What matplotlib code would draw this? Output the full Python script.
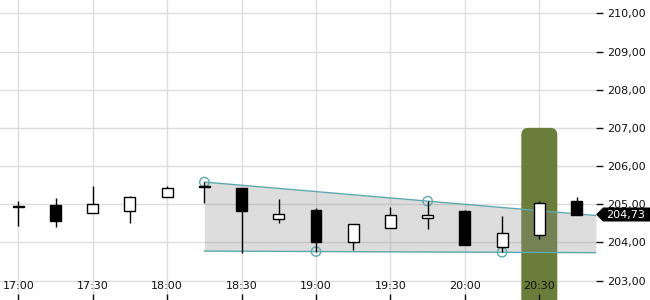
import matplotlib
matplotlib.use("Agg")
import matplotlib.pyplot as plt
from matplotlib.patches import Polygon, FancyBboxPatch
from matplotlib.transforms import IdentityTransform

plt.rcParams['font.family'] = ['DejaVu Sans']

# ---- data ----
times = ["17:00", "17:15", "17:30", "17:45", "18:00", "18:15", "18:30", "18:45",
         "19:00", "19:15", "19:30", "19:45", "20:00", "20:15", "20:30", "20:45"]
opens = [204.96, 204.98, 204.76, 204.81, 205.20, 205.48, 205.42, 204.61,
         204.84, 204.00, 204.37, 204.63, 204.82, 203.87, 204.18, 205.09]
highs = [205.09, 205.16, 205.48, 205.22, 205.48, 205.58, 205.43, 205.13,
         204.90, 204.48, 204.93, 205.08, 204.85, 204.69, 205.09, 205.18]
lows = [204.44, 204.40, 204.76, 204.52, 205.20, 205.04, 203.72, 204.50,
        203.76, 203.79, 204.37, 204.35, 203.92, 203.74, 204.08, 204.73]
closes = [204.93, 204.55, 205.01, 205.18, 205.42, 205.45, 204.83, 204.74,
          204.00, 204.48, 204.71, 204.71, 203.92, 204.24, 205.03, 204.73]

upper_anchor_times = ["18:15", "19:45"]
upper_anchor_vals = [205.58, 205.08]
lower_anchor_times = ["19:00", "20:15"]
lower_anchor_vals = [203.76, 203.74]

highlight_time = "20:30"
highlight_top = 207.0
last_price = 204.73

x_tick_labels = ["17:00", "17:30", "18:00", "18:30", "19:00", "19:30", "20:00", "20:30"]
y_ticks = [203, 204, 205, 206, 207, 208, 209, 210]


def to_min(t):
    h, m = t.split(":")
    return (int(h) - 17) * 60 + int(m)


xs = [to_min(t) for t in times]

W, H = 650, 300
fig = plt.figure(figsize=(W / 100, H / 100), dpi=100)
ax = fig.add_axes([0, 0, 596 / W, 1])
XMIN, XMAX = -7.38, 232.85
ax.set_xlim(XMIN, XMAX)
ax.set_ylim(202.49, 210.35)
for s in ax.spines.values():
    s.set_visible(False)

# ticks (axis drawn on top), grid drawn manually underneath
xt = [to_min(t) for t in x_tick_labels]
ax.set_xticks(xt)
ax.set_xticklabels(x_tick_labels)
ax.set_yticks(y_ticks)
ax.set_yticklabels([f"{v:.2f}".replace(".", ",") for v in y_ticks])
ax.set_axisbelow(False)
ax.grid(False)
for v in xt:
    ax.axvline(v, color="#dddddd", lw=1, zorder=0)
for v in y_ticks:
    ax.axhline(v, color="#dddddd", lw=1, zorder=0)
ax.yaxis.tick_right()
ax.tick_params(axis="y", direction="out", length=5, width=1, pad=3,
               labelsize=8, colors="#111111")
ax.tick_params(axis="x", direction="in", length=4, width=1, pad=-14,
               labelsize=8, colors="#111111")

fig.canvas.draw()

# highlight column (pixel geometry)
hx = to_min(highlight_time)
px_c, py_top = ax.transData.transform((hx, highlight_top))
hw = 36
rect = FancyBboxPatch((px_c - hw / 2, -20), hw, py_top + 20,
                      boxstyle="round,pad=0,rounding_size=7",
                      transform=IdentityTransform(), facecolor="#6a7d3a",
                      edgecolor="none", zorder=1)
ax.add_patch(rect)

# trend channel
def line_through(ts, vs):
    x0, x1 = to_min(ts[0]), to_min(ts[1])
    slope = (vs[1] - vs[0]) / (x1 - x0)
    return lambda x: vs[0] + slope * (x - x0)

up = line_through(upper_anchor_times, upper_anchor_vals)
lo = line_through(lower_anchor_times, lower_anchor_vals)
start = to_min(upper_anchor_times[0])
lx = [start, XMAX]
ax.fill_between(lx, [lo(v) for v in lx], [up(v) for v in lx],
                color="#8f8f8f", alpha=0.3, linewidth=0, zorder=1.5)
ax.plot(lx, [up(v) for v in lx], color="#5ea9ae", lw=1, zorder=1.6)
ax.plot(lx, [lo(v) for v in lx], color="#5ea9ae", lw=1, zorder=1.6)
ax.scatter([to_min(t) for t in upper_anchor_times + lower_anchor_times],
           upper_anchor_vals + lower_anchor_vals, s=45, facecolors="none",
           edgecolors="#5ea9ae", linewidths=1, zorder=1.7)

# candles
for x, o, h, l, c in zip(xs, opens, highs, lows, closes):
    ax.vlines(x, l, h, color="black", lw=1, zorder=1.8)
    bottom = min(o, c)
    height = max(abs(c - o), 0.03)
    fc = "white" if c > o else "black"
    ax.bar(x, height, bottom=bottom, width=4.4, facecolor=fc,
           edgecolor="black", linewidth=1, zorder=1.9)

# last price label
_, py = ax.transData.transform((0, last_price))
x0 = ax.transData.transform((XMAX, 0))[0]
poly = Polygon([(x0, py), (x0 + 7, py + 7), (W, py + 7), (W, py - 7), (x0 + 7, py - 7)],
               closed=True, transform=IdentityTransform(), facecolor="black",
               edgecolor="none", clip_on=False, zorder=10)
fig.add_artist(poly)
fig.text((x0 + 10) / W, py / H, f"{last_price:.2f}".replace(".", ","),
         color="white", fontsize=8, va="center", ha="left", zorder=11)

fig.savefig("out.png", dpi=100)
